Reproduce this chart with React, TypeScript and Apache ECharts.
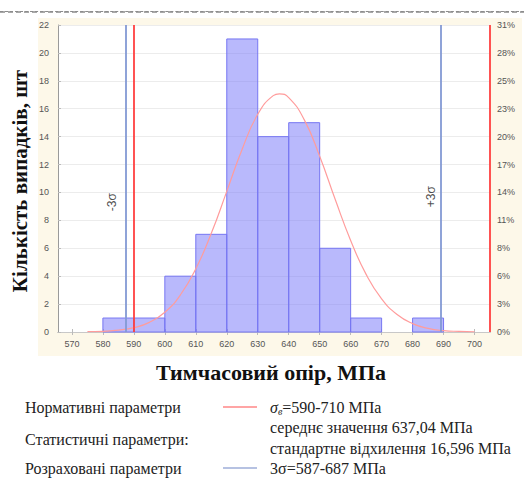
import React, { useEffect, useRef } from "react";
import * as echarts from "echarts";

// ---- data ----
const binStarts = [580, 590, 600, 610, 620, 630, 640, 650, 660, 670, 680];
const binWidth = 10;
const counts = [1, 1, 4, 7, 21, 14, 15, 6, 1, 0, 1];
const curveX = [575, 580, 585, 590, 595, 600, 605, 610, 615, 620, 625, 630, 635, 637, 640, 645, 650, 655, 660, 665, 670, 675, 680, 685, 690, 695, 700];
const curveY = [0.02, 0.05, 0.13, 0.31, 0.69, 1.41, 2.65, 4.53, 7.07, 10.08, 13.12, 15.6, 16.94, 17.07, 16.8, 15.22, 12.59, 9.51, 6.56, 4.13, 2.38, 1.25, 0.6, 0.26, 0.1, 0.04, 0.01];
const xTicks = [570, 580, 590, 600, 610, 620, 630, 640, 650, 660, 670, 680, 690, 700];
const leftTicks = [0, 2, 4, 6, 8, 10, 12, 14, 16, 18, 20, 22];
const rightTickLabels = ["0%", "3%", "6%", "8%", "11%", "14%", "17%", "20%", "23%", "25%", "28%", "31%"];
const normLimits = [590, 710];
const sigmaLimits = [587.5, 689];
const sigmaLabels = [
  { text: "-3σ", x: 582.9, y: 9.3 },
  { text: "+3σ", x: 685.8, y: 9.7 },
];
const xMin = 565.5;
const xMax = 705;

const serif = "Liberation Serif";
const sans = "Liberation Sans";

const txt = (x: number, y: number, text: string) => ({
  type: "text", x, y,
  style: { text, fontFamily: serif, fontSize: 16, fill: "#222", verticalAlign: "middle" },
});

export default function App() {
  const ref = useRef<HTMLDivElement>(null);
  useEffect(() => {
    if (!ref.current) return;
    const chart = echarts.init(ref.current, null, { renderer: "svg" });
    const barData = binStarts.map((s, i) => [s, s + binWidth, counts[i]]);
    const curveData = curveX.map((x, i) => [x, curveY[i]]);
    const option: any = {
      animation: false,
      backgroundColor: "#ffffff",
      grid: { left: 58, right: 34, top: 25, bottom: 147 },
      graphic: [
        { type: "rect", z: -10, shape: { x: 38, y: 18, width: 484, height: 338 }, style: { fill: "#fdf8e9" } },
        { type: "rect", z: -9, shape: { x: 58, y: 25, width: 432, height: 307 }, style: { fill: "#ffffff" } },
        { type: "line", shape: { x1: 0, y1: 12, x2: 524, y2: 12 }, style: { stroke: "#8c8c8c", lineWidth: 1.5, lineDash: [5, 3] } },
        {
          type: "text", x: 20, y: 181, rotation: Math.PI / 2,
          style: { text: "Кількість випадків, шт", fontFamily: serif, fontWeight: "bold", fontSize: 21, fill: "#111", align: "center", verticalAlign: "middle" },
        },
        {
          type: "text", x: 271, y: 372,
          style: { text: "Тимчасовий опір, МПа", fontFamily: serif, fontWeight: "bold", fontSize: 22, fill: "#111", align: "center", verticalAlign: "middle" },
        },
        txt(25, 407, "Нормативні параметри"),
        { type: "line", shape: { x1: 223, y1: 407, x2: 257, y2: 407 }, style: { stroke: "#ff4d4d", lineWidth: 1.2 } },
        {
          type: "text", x: 270, y: 407,
          style: {
            text: "{i|σ}{s|в}{n|=590-710 МПа}", fontFamily: serif, fontSize: 16, fill: "#222", verticalAlign: "middle",
            rich: {
              i: { fontFamily: serif, fontStyle: "italic", fontSize: 16 },
              s: { fontFamily: serif, fontStyle: "italic", fontSize: 10, padding: [8, 0, 0, 0] },
              n: { fontFamily: serif, fontSize: 16 },
            },
          },
        },
        txt(25, 439, "Статистичні параметри:"),
        txt(270, 427, "середнє значення 637,04 МПа"),
        txt(270, 448, "стандартне відхилення 16,596 МПа"),
        txt(25, 468, "Розраховані параметри"),
        { type: "line", shape: { x1: 223, y1: 468, x2: 257, y2: 468 }, style: { stroke: "#6f86c6", lineWidth: 1.2 } },
        txt(270, 468, "3σ=587-687 МПа"),
      ],
      xAxis: [
        {
          type: "value", min: xMin, max: xMax, position: "bottom",
          axisLine: { show: true, lineStyle: { color: "#9a9a9a", width: 1 } },
          axisTick: { show: true, inside: true, length: 3, customValues: xTicks, lineStyle: { color: "#bbb" } },
          axisLabel: { customValues: xTicks, color: "#555", fontSize: 9, fontFamily: sans, margin: 7 },
          splitLine: { show: false },
        },
        {
          type: "value", min: xMin, max: xMax, position: "top",
          axisLine: { show: true, lineStyle: { color: "#c8c8c8", width: 1 } },
          axisTick: { show: true, inside: true, length: 3, customValues: xTicks, lineStyle: { color: "#bbb" } },
          axisLabel: { show: false },
          splitLine: { show: false },
        },
      ],
      yAxis: [
        {
          type: "value", min: 0, max: 22, interval: 2, position: "left",
          axisLine: { show: true, lineStyle: { color: "#9a9a9a" } },
          axisTick: { show: true, inside: true, length: 3, lineStyle: { color: "#bbb" } },
          axisLabel: { color: "#555", fontSize: 9, fontFamily: sans, margin: 9, formatter: (v: number) => (leftTicks.includes(v) ? String(v) : "") },
          splitLine: { show: true, lineStyle: { color: "#ececec", width: 1 } },
        },
        {
          type: "value", min: 0, max: 22, interval: 2, position: "right",
          axisLine: { show: false },
          axisTick: { show: false },
          axisLabel: { color: "#555", fontSize: 9, fontFamily: sans, margin: 7, formatter: (v: number) => rightTickLabels[Math.round(v / 2)] ?? "" },
          splitLine: { show: false },
        },
      ],
      series: [
        {
          type: "custom",
          xAxisIndex: 0, yAxisIndex: 0,
          data: barData,
          encode: { x: [0, 1], y: 2 },
          renderItem: (params: any, api: any) => {
            const x0 = api.value(0), x1 = api.value(1), c = api.value(2);
            if (!c) return null;
            const p0 = api.coord([x0, c]);
            const p1 = api.coord([x1, 0]);
            return {
              type: "rect",
              shape: { x: p0[0], y: p0[1], width: p1[0] - p0[0], height: p1[1] - p0[1] },
              style: { fill: "rgba(115,115,250,0.5)", stroke: "#7676f2", lineWidth: 1 },
            };
          },
          z: 2,
        },
        {
          type: "line",
          xAxisIndex: 0, yAxisIndex: 0,
          data: curveData,
          smooth: true,
          showSymbol: false,
          lineStyle: { color: "#ff9c9c", width: 1.2 },
          z: 3,
        },
        {
          type: "line",
          xAxisIndex: 0, yAxisIndex: 0,
          data: [],
          markLine: {
            silent: true, symbol: "none", label: { show: false },
            data: [
              ...sigmaLimits.map((v) => ({ xAxis: v, lineStyle: { color: "#8399d4", width: 1.8, type: "solid" } })),
              ...normLimits.map((v) => ({ xAxis: Math.min(v, xMax), lineStyle: { color: "#ff4040", width: 1.8, type: "solid" } })),
            ],
          },
          z: 4,
        },
        {
          type: "scatter",
          xAxisIndex: 0, yAxisIndex: 0,
          symbolSize: 0,
          data: sigmaLabels.map((s) => ({ value: [s.x, s.y], name: s.text })),
          label: {
            show: true, position: "inside", rotate: 90, formatter: (p: any) => p.name,
            color: "#222", fontSize: 12, fontFamily: sans,
          },
          z: 5,
        },
      ],
    };
    chart.setOption(option);
    return () => chart.dispose();
  }, []);
  return (
    <div style={{ position: "absolute", left: 0, top: 0, width: 524, height: 479 }}>
      <div ref={ref} style={{ width: 524, height: 479, position: "absolute", left: 0, top: 0 }} />
      <div style={{ position: "absolute", left: 0, top: 11, width: 524, height: 0, borderTop: "1.5px dashed #8c8c8c", pointerEvents: "none" }} />
    </div>
  );
}
